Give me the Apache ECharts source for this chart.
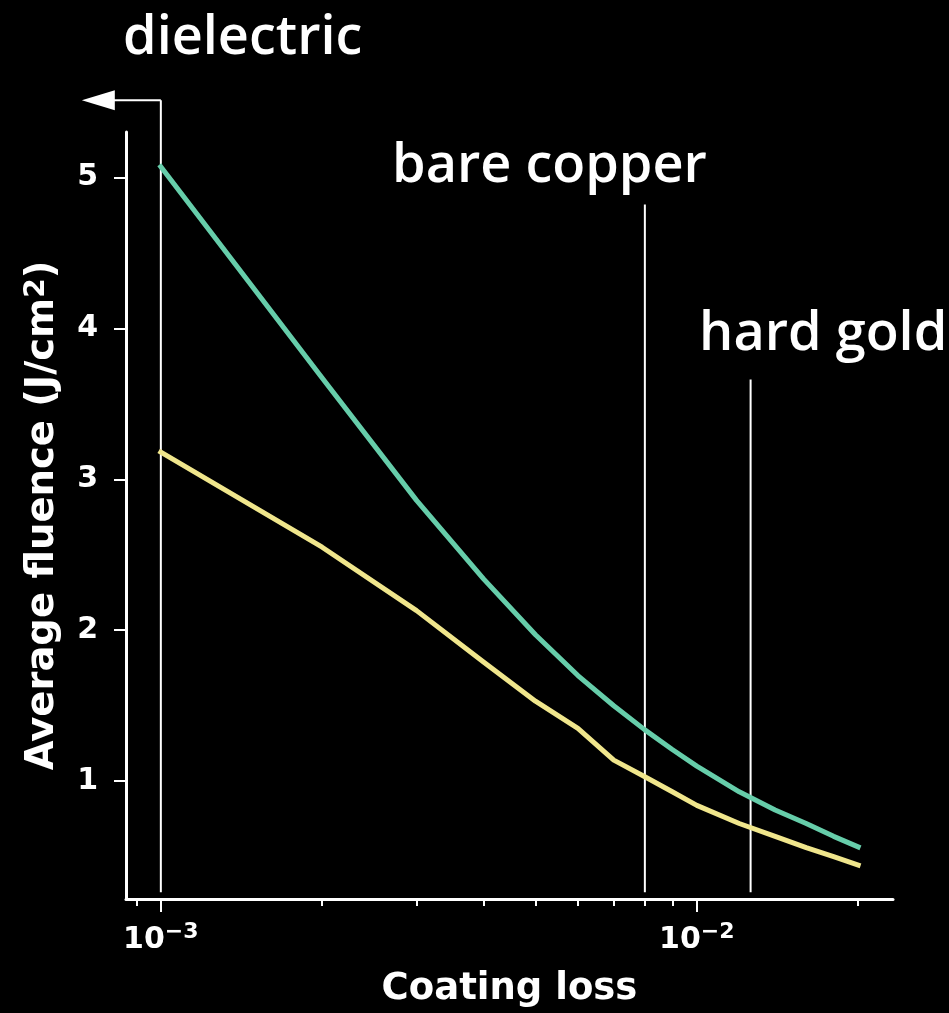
<!DOCTYPE html>
<html>
<head>
<meta charset="utf-8">
<script src="https://cdn.jsdelivr.net/npm/echarts@6/dist/echarts.min.js"></script>
<style>
html,body{margin:0;padding:0;background:#000;}
#chart{width:949px;height:1013px;}
</style>
</head>
<body>
<div id="chart"></div>
<script>
// ---- data ----
const coatingLoss = [0.001, 0.002, 0.003, 0.004, 0.005, 0.006, 0.007, 0.008, 0.009, 0.01, 0.012, 0.014, 0.016, 0.018, 0.02];
const fluenceUpper = [5.07, 3.67, 2.86, 2.34, 1.97, 1.70, 1.50, 1.34, 1.21, 1.10, 0.93, 0.81, 0.72, 0.635, 0.565];
const fluenceLower = [3.18, 2.55, 2.13, 1.79, 1.53, 1.35, 1.14, 1.03, 0.93, 0.84, 0.72, 0.635, 0.56, 0.50, 0.445];

const yTicks = [1, 2, 3, 4, 5];
const xMajorTicks = [0.001, 0.01];
const xMinorTicks = [0.0009, 0.002, 0.003, 0.004, 0.005, 0.006, 0.007, 0.008, 0.009, 0.02];

const annotationNames = ['dielectric', 'bare copper', 'hard gold'];
const annotationLoss = [0.001, 0.008, 0.0126];
const annotationTop = [5.51, 4.82, 3.66];
const annotationBase = 0.265;
const annotationLabelLoss = [0.00085, 0.00270, 0.0101];
const annotationLabelFluence = [5.82, 4.97, 3.86];

// ---- chart ----
const xMin = 0.000861, xMax = 0.02323;
const yMin = 0.22, yMax = 5.30;
const tickFont = 'DejaVu Sans';

const chart = echarts.init(document.getElementById('chart'), null, {renderer: 'canvas'});

const annotationData = annotationLoss.map((x, i) => [x, annotationTop[i], annotationLabelLoss[i], annotationLabelFluence[i], i]);

function renderAnnotation(params, api) {
  const x = api.value(0), top = api.value(1), lx = api.value(2), ly = api.value(3), idx = api.value(4);
  const pTop = api.coord([x, top]);
  const pBot = api.coord([x, annotationBase]);
  const pLab = api.coord([lx, ly]);
  const children = [
    {type: 'line', shape: {x1: pTop[0], y1: pTop[1], x2: pBot[0], y2: pBot[1]},
     style: {stroke: '#fff', lineWidth: 2}},
    {type: 'text', style: {text: annotationNames[idx], x: pLab[0], y: pLab[1] - 15,
      fill: '#fff', font: '600 54px "Open Sans"', align: 'left', verticalAlign: 'middle'}}
  ];
  if (idx === 0) {
    const tipX = pTop[0] - 79;
    children.push({type: 'line', shape: {x1: pTop[0], y1: pTop[1], x2: tipX + 30, y2: pTop[1]},
      style: {stroke: '#fff', lineWidth: 2}});
    children.push({type: 'polygon', shape: {points: [[tipX, pTop[1]], [tipX + 33, pTop[1] - 10], [tipX + 33, pTop[1] + 10]]},
      style: {fill: '#fff'}});
  }
  return {type: 'group', children};
}

const option = {
  backgroundColor: '#000',
  animation: false,
  grid: {left: 126, right: 56, top: 132, bottom: 112, containLabel: false},
  xAxis: [{
    type: 'log', logBase: 10, min: xMin, max: xMax,
    axisLine: {show: true, lineStyle: {color: '#fff', width: 3}},
    axisTick: {show: true, customValues: xMajorTicks, length: 13, lineStyle: {color: '#fff', width: 2}},
    axisLabel: {
      show: true, customValues: xMajorTicks, margin: 22,
      formatter: function (v) {
        const e = Math.round(Math.log10(v));
        return '{b|10}{s|' + (e < 0 ? '\u2212' : '') + Math.abs(e) + '}';
      },
      rich: {
        b: {fontFamily: tickFont, fontWeight: 'bold', fontSize: 30, color: '#fff', lineHeight: 38},
        s: {fontFamily: tickFont, fontWeight: 'bold', fontSize: 22, color: '#fff', lineHeight: 22, verticalAlign: 'top'}
      }
    },
    splitLine: {show: false},
    minorTick: {show: false},
    name: 'Coating loss', nameLocation: 'middle', nameGap: 72,
    nameTextStyle: {fontFamily: tickFont, fontWeight: 'bold', fontSize: 37, color: '#fff'}
  }, {
    type: 'log', logBase: 10, min: xMin, max: xMax, position: 'bottom', gridIndex: 0,
    axisLine: {show: false},
    axisTick: {show: true, customValues: xMinorTicks, length: 7, lineStyle: {color: '#fff', width: 2}},
    axisLabel: {show: false},
    splitLine: {show: false}
  }],
  yAxis: {
    type: 'value', min: yMin, max: yMax,
    axisLine: {show: true, lineStyle: {color: '#fff', width: 3}},
    axisTick: {show: true, customValues: yTicks, length: 12, lineStyle: {color: '#fff', width: 2}},
    axisLabel: {show: true, customValues: yTicks, margin: 28, color: '#fff',
      fontFamily: tickFont, fontWeight: 'bold', fontSize: 30},
    splitLine: {show: false},
    name: 'Average fluence (J/cm{s|2})', nameLocation: 'middle', nameGap: 64,
    nameTextStyle: {fontFamily: tickFont, fontWeight: 'bold', fontSize: 38.5, color: '#fff',
      rich: {s: {fontFamily: tickFont, fontWeight: 'bold', fontSize: 28, color: '#fff', lineHeight: 26, verticalAlign: 'top'}}}
  },
  series: [{
    type: 'line', xAxisIndex: 0, data: coatingLoss.map((x, i) => [x, fluenceUpper[i]]),
    showSymbol: false, symbol: 'none', lineStyle: {color: '#66CDAA', width: 5, cap: 'square', join: 'round'},
    itemStyle: {color: '#66CDAA'}, clip: false
  }, {
    type: 'line', xAxisIndex: 0, data: coatingLoss.map((x, i) => [x, fluenceLower[i]]),
    showSymbol: false, symbol: 'none', lineStyle: {color: '#F0E68C', width: 5, cap: 'square', join: 'round'},
    itemStyle: {color: '#F0E68C'}, clip: false
  }, {
    type: 'custom', xAxisIndex: 0, data: annotationData, renderItem: renderAnnotation, clip: false,
    encode: {x: 0, y: 1}, silent: true
  }]
};
chart.setOption(option);
</script>
</body>
</html>
